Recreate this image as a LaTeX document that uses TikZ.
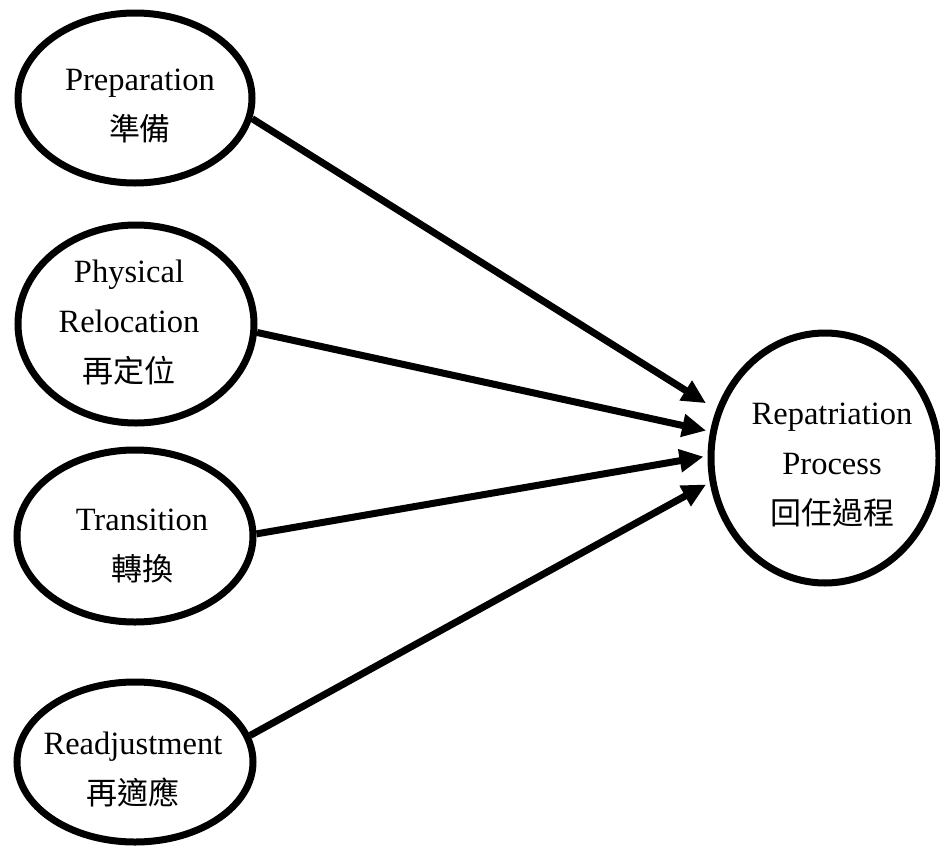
\documentclass[tikz,border=0pt]{standalone}
\usepackage{fontspec}
\setmainfont{Liberation Serif}
\newfontfamily\cjk{Noto Sans CJK TC}
\usetikzlibrary{arrows.meta,shapes.geometric}
\newcommand{\zh}[1]{{\cjk\fontsize{31pt}{50pt}\selectfont #1}}
\tikzset{
  oval/.style={draw=black, line width=7pt, ellipse, inner sep=0pt, fill=white},
  lbl/.style={align=center, inner sep=0pt, font=\fontsize{32.5pt}{50pt}\selectfont},
  flow/.style={line width=7pt, -{Triangle[length=24pt,width=22pt]}, shorten >=4pt}
}
\begin{document}
\begin{tikzpicture}[x=1pt,y=-1pt]
\useasboundingbox (0,0) rectangle (940,846);
% ellipses
\node[oval, minimum width=234pt, minimum height=170pt] (prep)  at (135,98)  {};
\node[oval, minimum width=236pt, minimum height=198pt] (reloc) at (136,324) {};
\node[oval, minimum width=236pt, minimum height=172pt] (trans) at (135,536) {};
\node[oval, minimum width=236pt, minimum height=160pt] (readj) at (135,762) {};
\node[oval, minimum width=228pt, minimum height=250pt] (rep)   at (825,458) {};
% labels
\node[lbl] (prept)  at (140,106) {Preparation\\\zh{準備}};
\node[lbl] (reloct) at (129,323) {Physical\\Relocation\\\zh{再定位}};
\node[lbl] (transt) at (142,546) {Transition\\\zh{轉換}};
\node[lbl] (readjt) at (133,769) {Readjustment\\\zh{再適應}};
\node[lbl] (rept)   at (832,465) {Repatriation\\Process\\\zh{回任過程}};
% connectors
\draw[flow, shorten >=12pt] (prep.-10) -- (rep.156);
\draw[flow] (reloc.-4) -- (rep.167.5);
\draw[flow] (trans.1) -- (rep.179.5);
\draw[flow] (readj.13) -- (rep.-168);
\end{tikzpicture}
\end{document}
